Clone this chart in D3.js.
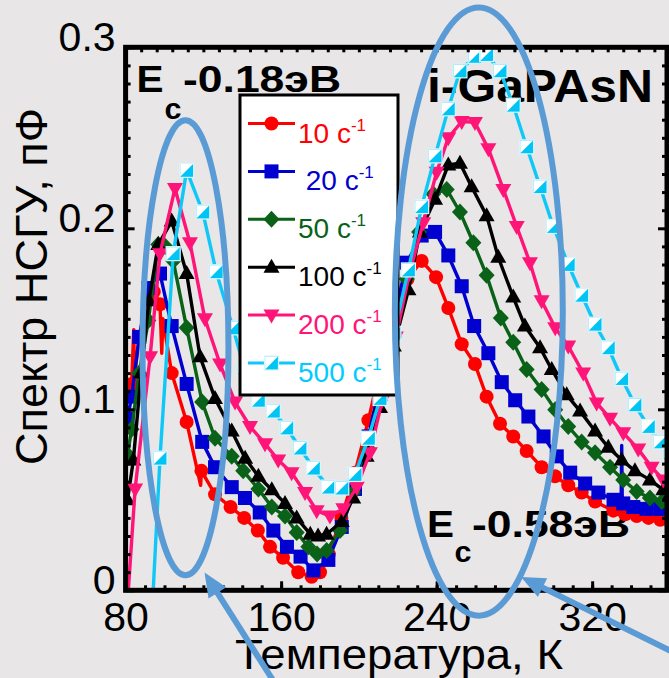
<!DOCTYPE html>
<html>
<head>
<meta charset="utf-8">
<script src="https://cdn.jsdelivr.net/npm/d3@7"></script>
<style>
  html, body { margin: 0; padding: 0; background: #e8e6e6; }
  svg { display: block; }
  text { font-family: "Liberation Sans", Arial, sans-serif; }
</style>
</head>
<body>
<svg id="chart" width="669" height="678"></svg>
<script>
// DLTS spectra of i-GaPAsN for several rate windows: [temperature K, signal pF, marker flag]
// a third element of 0 marks a noise sample drawn in the line without a symbol
const rate10 = [
  [82,0.108],[83.1,0.114],[84.2,0.144,0],[84.6,0.118,0],[87,0.140],[91.7,0.161],[94.5,0.165],[97.7,0.158],
  [98.6,0.131,0],[99.2,0.150,0],[103.7,0.120],[111.4,0.093],[118.6,0.058,0],[119,0.066],[126,0.053],
  [134,0.046],[141,0.040],[148,0.033],[154.3,0.024],[161,0.018],[168.8,0.010],[175.7,0.0075],
  [180,0.010],[184.5,0.020],[191,0.040],[198,0.065],[204.9,0.094],[211.5,0.125],[218,0.150],
  [225,0.172],[232.3,0.182],[239.7,0.173],[246,0.156],[252.9,0.136],[259.7,0.125],[265.7,0.107],
  [272.6,0.092],[279.4,0.085],[286.3,0.077],[294,0.068],[300.9,0.063],[307.7,0.058],[314.6,0.054],
  [321.5,0.049],[330.9,0.044],[337,0.042],[342.9,0.041],[349,0.040],[355,0.039],[360,0.038]
];
const rate20 = [
  [81,0.095],[83.1,0.107],[87,0.140],[91.7,0.167],[97.7,0.175],[103.7,0.146],[111.4,0.114],
  [119.4,0.082],[126,0.068],[134.6,0.057],[141.4,0.051],[149,0.043],[156,0.033],[163,0.024],
  [170,0.0186],[176.6,0.011],[184.3,0.0168],[191.2,0.035],[198,0.056],[205,0.085],[211,0.115],
  [218,0.150],[224.6,0.181],[232.3,0.196],[239.2,0.198],[246,0.185],[252.9,0.168],[259.3,0.146],
  [266.6,0.131],[273.5,0.115],[280.4,0.105],[287.2,0.096],[295,0.085],[301.8,0.074],
  [308.7,0.065],[316.4,0.059],[323.2,0.054],[331,0.050],[334.9,0.048,0],[335.2,0.080,0],
  [335.5,0.048,0],[336,0.048],[341.2,0.046],[348,0.045],[355,0.045],[360,0.045]
];
const rate50 = [
  [81,0.075],[83.1,0.089],[87,0.120],[91.7,0.149],[96.8,0.191],[100.5,0.190],[104.5,0.182],
  [111.4,0.145],[119.4,0.104],[126,0.084],[134.6,0.074],[140.5,0.066],[148.3,0.056],
  [155.2,0.046],[162,0.041],[168,0.032],[174,0.024],[178.5,0.020],[183.4,0.022],[190.3,0.033],
  [197.1,0.054],[204.9,0.078],[211,0.105],[218,0.140],[224.6,0.172],[231,0.198],[238.3,0.219],
  [245.2,0.2215],[252,0.209],[258.9,0.192],[265.7,0.174],[273,0.1505],[279.4,0.137],
  [286.3,0.122],[294,0.111],[301,0.0998],[307.7,0.0905],[314.6,0.082],[321.5,0.076],
  [329.2,0.068],[336,0.061],[342.9,0.0546],[349.7,0.051],[355.8,0.049],[360,0.047]
];
const rate100 = [
  [81,0.050],[84,0.072],[88,0.120],[92,0.160],[96.8,0.191],[103.7,0.204],[111.4,0.175],
  [118.3,0.129],[126,0.106],[134.6,0.088],[141.5,0.073],[148.3,0.063],[155.2,0.0555],
  [162,0.048],[168,0.040],[175,0.031],[179,0.030],[183.4,0.031],[191.2,0.038],[197.1,0.051],
  [204,0.074],[210.9,0.101],[218,0.135],[225.5,0.166],[231.4,0.198],[239.2,0.216],[246,0.235],
  [252,0.236],[258,0.223],[265.7,0.207],[271.7,0.184],[279.4,0.162],[285.4,0.146],
  [293.2,0.134],[299.2,0.122],[306.9,0.108],[313.8,0.099],[321.5,0.088],[328.3,0.079],
  [335.2,0.072],[342,0.066],[349.7,0.061],[356.6,0.0555],[360,0.053]
];
const rate200 = [
  [81.4,0.0],[84.9,0.056],[92.6,0.129],[97.7,0.186],[105.4,0.222],[113.1,0.192],[120.8,0.150],
  [128.6,0.125],[136.3,0.104],[144,0.0905],[151.7,0.081],[158.5,0.072],[165.4,0.065],
  [172.3,0.054],[178.3,0.044],[185.1,0.041],[192,0.045],[198.9,0.057],[205.7,0.076],[212,0.105],
  [219,0.140],[226,0.175],[233.1,0.203],[240,0.231],[246,0.250],[252.9,0.259],[259.7,0.2585],
  [266.6,0.244],[274.3,0.2215],[281.2,0.201],[288,0.181],[294,0.160],[301,0.145],[307.7,0.135],
  [315.4,0.120],[322.3,0.1035],[329.2,0.095],[336,0.087],[343.7,0.078],[350.6,0.068],
  [356.6,0.061],[360,0.057]
];
const rate500 = [
  [94.2,0.0],[97.7,0.073],[104.5,0.186],[111.4,0.232],[119.7,0.209],[126.6,0.176],[135.2,0.145],
  [141,0.123],[148.3,0.105],[156,0.099],[162.9,0.0897],[169.7,0.0786],[176.6,0.0675],
  [184.3,0.057],[191.2,0.0565],[198,0.064],[204.9,0.084],[210.9,0.106],[218,0.142],[225.5,0.177],
  [232.3,0.212],[239.2,0.240],[246,0.266],[252,0.287],[259.7,0.295],[265.7,0.296],[272.6,0.287],
  [279.4,0.268],[286.3,0.245],[293.2,0.223],[300,0.201],[307.7,0.180],[314.6,0.163],
  [321.5,0.147],[328.3,0.134],[335.2,0.117],[342,0.1025],[348.9,0.0905],[355,0.082],[360,0.076]
];

const seriesLabels = ["10", " 20", "50", "100", "200", "500"];
const seriesColors = ["#ff0000", "#0000d0", "#0a6218", "#000000", "#ff1478", "#10c8f8"];
const legendTextColors = ["#ff0000", "#0000cc", "#0a6218", "#000000", "#ff1478", "#00ccff"];
const seriesMarkers = ["circle", "square", "diamond", "triangleUp", "triangleDown", "halfSquare"];
const seriesData = [rate10, rate20, rate50, rate100, rate200, rate500];

const xTickValues = [80, 160, 240, 320];
const xTickLabels = ["80", "160", "240", "320"];
const yTickValues = [0, 0.1, 0.2, 0.3];
const yTickLabels = ["0", "0.1", "0.2", "0.3"];

const W = 669, H = 678;
const svg = d3.select("#chart");
svg.append("rect").attr("width", W).attr("height", H).attr("fill", "#e8e6e6");

const x = d3.scaleLinear().domain([80, 358.5]).range([125.6, 667]);
const y = d3.scaleLinear().domain([0, 0.3]).range([590.3, 47.3]);

// clip region for the curves
svg.append("defs").append("clipPath").attr("id", "plotClip")
  .append("rect")
  .attr("x", x(80)).attr("y", y(0.3))
  .attr("width", x(358.5) - x(80)).attr("height", y(0) - y(0.3));

// annotation texts inside the frame
function boldText(str, px, py, size, len) {
  const t = svg.append("text").attr("x", px).attr("y", py)
    .attr("font-size", size).attr("font-weight", "bold").attr("fill", "#000").text(str);
  if (len) t.attr("textLength", len).attr("lengthAdjust", "spacingAndGlyphs");
  return t;
}
boldText("E", 136.5, 92, 36, 27);
boldText("c", 164.5, 118.5, 29, 17);
boldText("-0.18эВ", 183, 92, 36, 158);
boldText("i-GaPAsN", 427, 101.5, 46, 226);
boldText("E", 427, 537, 36, 27);
boldText("c", 454.5, 562, 29, 17);
boldText("-0.58эВ", 472, 537, 36, 158);

// marker drawing
function drawMarker(g, type, color) {
  switch (type) {
    case "circle":
      g.append("circle").attr("r", 7).attr("fill", color);
      break;
    case "square":
      g.append("rect").attr("x", -7).attr("y", -7).attr("width", 14).attr("height", 14).attr("fill", color);
      break;
    case "diamond":
      g.append("path").attr("d", "M0,-8.5L8,0L0,8.5L-8,0Z").attr("fill", color);
      break;
    case "triangleUp":
      g.append("path").attr("d", "M0,-8.5L8,5.5L-8,5.5Z").attr("fill", color);
      break;
    case "triangleDown":
      g.append("path").attr("d", "M0,8.5L8,-5.5L-8,-5.5Z").attr("fill", color);
      break;
    case "halfSquare":
      g.append("rect").attr("x", -7).attr("y", -7).attr("width", 14).attr("height", 14)
        .attr("fill", "#00c4f4").attr("stroke", "#d8f6ff").attr("stroke-width", 1.2);
      g.append("path").attr("d", "M-6.4,-6.4L6.4,-6.4L-6.4,6.4Z").attr("fill", "#ffffff");
      break;
  }
}

const line = d3.line().x(d => x(d[0])).y(d => y(d[1]));
const plot = svg.append("g").attr("clip-path", "url(#plotClip)");
seriesData.forEach((data, i) => {
  const g = plot.append("g");
  g.append("path").datum(data).attr("d", line)
    .attr("fill", "none").attr("stroke", seriesColors[i])
    .attr("stroke-width", 3.4).attr("stroke-linejoin", "round");
  data.filter(d => d[1] > 0.001 && d[2] !== 0).forEach(d => {
    const m = g.append("g").attr("transform", `translate(${x(d[0])},${y(d[1])})`);
    drawMarker(m, seriesMarkers[i], seriesColors[i]);
  });
});

// frame
svg.append("rect")
  .attr("x", x(80)).attr("y", y(0.3))
  .attr("width", x(358.5) - x(80)).attr("height", y(0) - y(0.3))
  .attr("fill", "none").attr("stroke", "#000").attr("stroke-width", 5);

function styleAxis(g) {
  g.select(".domain").remove();
  g.selectAll(".tick line").attr("stroke", "#000").attr("stroke-width", 3);
  g.attr("font-family", null).attr("font-size", null);
}

// bottom axis: minor every 10 K, major with labels
svg.append("g").attr("transform", `translate(0,${y(0)})`)
  .call(d3.axisBottom(x).tickValues(d3.range(90, 358, 10)).tickSize(-5).tickFormat(""))
  .call(styleAxis);
svg.append("g").attr("transform", `translate(0,${y(0)})`)
  .call(d3.axisBottom(x).tickValues(xTickValues).tickSize(-9).tickFormat((d, i) => xTickLabels[i]))
  .call(styleAxis)
  .call(g => g.selectAll(".tick text")
    .attr("y", 41).attr("dy", 0).attr("font-size", 41).attr("fill", "#000"));

// top axis
svg.append("g").attr("transform", `translate(0,${y(0.3)})`)
  .call(d3.axisTop(x).tickValues(d3.range(88, 358, 8)).tickSize(-5).tickFormat(""))
  .call(styleAxis);

// left axis
const yMinor = d3.range(1, 30).filter(k => k % 10 !== 0).map(k => k / 100);
svg.append("g").attr("transform", `translate(${x(80)},0)`)
  .call(d3.axisLeft(y).tickValues(yMinor).tickSize(-5).tickFormat(""))
  .call(styleAxis);
svg.append("g").attr("transform", `translate(${x(80)},0)`)
  .call(d3.axisLeft(y).tickValues(yTickValues).tickSize(-9).tickFormat((d, i) => yTickLabels[i]))
  .call(styleAxis)
  .call(g => g.selectAll(".tick text")
    .attr("x", -10).attr("dy", 3).attr("font-size", 41).attr("fill", "#000"));

// right axis
svg.append("g").attr("transform", `translate(${x(358.5)},0)`)
  .call(d3.axisRight(y).tickValues(yMinor).tickSize(-5).tickFormat(""))
  .call(styleAxis);
svg.append("g").attr("transform", `translate(${x(358.5)},0)`)
  .call(d3.axisRight(y).tickValues(yTickValues).tickSize(-9).tickFormat(""))
  .call(styleAxis);

// axis titles
svg.append("text")
  .attr("x", 235).attr("y", 669).attr("font-size", 42).attr("fill", "#000")
  .attr("textLength", 328).attr("lengthAdjust", "spacingAndGlyphs")
  .text("Температура, К");
svg.append("text")
  .attr("transform", "translate(47,465) rotate(-90)")
  .attr("font-size", 44).attr("fill", "#000")
  .attr("textLength", 357).attr("lengthAdjust", "spacingAndGlyphs")
  .text("Спектр НСГУ, пФ");

// legend
const legend = svg.append("g");
legend.append("rect").attr("x", 240).attr("y", 95).attr("width", 158).attr("height", 300)
  .attr("fill", "#fff").attr("stroke", "#000").attr("stroke-width", 3);
seriesLabels.forEach((lab, i) => {
  const ly = 123.5 + i * 47.9;
  legend.append("line").attr("x1", 248).attr("x2", 295).attr("y1", ly).attr("y2", ly)
    .attr("stroke", seriesColors[i]).attr("stroke-width", 3);
  const m = legend.append("g").attr("transform", `translate(271.5,${ly})`);
  drawMarker(m, seriesMarkers[i], seriesColors[i]);
  const t = legend.append("text").attr("x", 298).attr("y", ly + 19)
    .attr("font-size", 28).attr("fill", legendTextColors[i])
    .style("white-space", "pre");
  t.append("tspan").text(lab + " c");
  t.append("tspan").attr("font-size", 17).attr("dy", -12).text("-1");
});

// highlighting ellipses and arrows
const ringColor = "#5b9bd5";
function ring(cT, cV, rT, rV) {
  svg.append("ellipse")
    .attr("cx", x(cT)).attr("cy", y(cV))
    .attr("rx", x(cT + rT) - x(cT)).attr("ry", y(cV - rV) - y(cV))
    .attr("fill", "none").attr("stroke", ringColor).attr("stroke-width", 6);
}
ring(110.8, 0.134, 22.1, 0.1257);
ring(261.7, 0.154, 43.2, 0.168);

function arrow(tipT, tipV, tailT, tailV) {
  const tx = x(tipT), ty = y(tipV), sx = x(tailT), sy = y(tailV);
  const dx = tx - sx, dy = ty - sy, len = Math.hypot(dx, dy);
  const ux = dx / len, uy = dy / len, L = 24, Wd = 10.5;
  const bx = tx - ux * L, by = ty - uy * L;
  svg.append("line").attr("x1", sx).attr("y1", sy).attr("x2", bx + ux * 2).attr("y2", by + uy * 2)
    .attr("stroke", ringColor).attr("stroke-width", 6);
  svg.append("path")
    .attr("d", `M${tx},${ty}L${bx - uy * Wd},${by + ux * Wd}L${bx + uy * Wd},${by - ux * Wd}Z`)
    .attr("fill", ringColor);
}
arrow(120.6, 0.0098, 155.8, -0.0497);
arrow(283.4, 0.0074, 365, -0.036);
</script>
</body>
</html>
